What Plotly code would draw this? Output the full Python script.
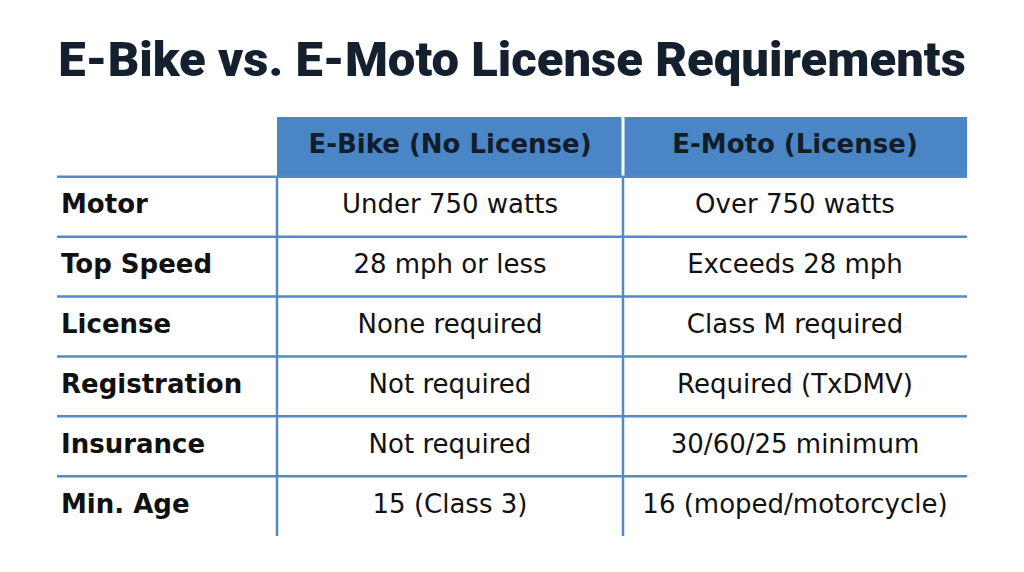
import plotly.graph_objects as go

# table content
headers = ["E-Bike (No License)", "E-Moto (License)"]
row_labels = ["Motor", "Top Speed", "License", "Registration", "Insurance", "Min. Age"]
ebike = ["Under 750 watts", "28 mph or less", "None required",
         "Not required", "Not required", "15 (Class 3)"]
emoto = ["Over 750 watts", "Exceeds 28 mph", "Class M required",
         "Required (TxDMV)", "30/60/25 minimum", "16 (moped/motorcycle)"]

title = "E-Bike vs. E-Moto License Requirements"

# layout / style (page body adds an 8px offset, margins compensate for it)
col_edges = [0, 220, 566, 910]
label_pad = 4
header_blue = "#4a86c5"
line_blue = "#5489c4"
ink = "#111111"
body_font = "DejaVu Sans, sans-serif"
body_size = 26

n_rows = len(row_labels) + 1  # header + body rows
row_mid = [i + 1.5 for i in range(len(row_labels))]

fig = go.Figure()

# row labels (bold, left aligned)
fig.add_trace(go.Scatter(
    x=[col_edges[0] + label_pad] * len(row_labels), y=row_mid,
    text=[f"<b>{t}</b>" for t in row_labels],
    mode="text", textposition="middle right",
    textfont=dict(family=body_font, size=body_size, color=ink),
    hoverinfo="skip", showlegend=False,
))

# value columns
for j, col in enumerate([ebike, emoto]):
    xc = (col_edges[j + 1] + col_edges[j + 2]) / 2
    fig.add_trace(go.Scatter(
        x=[xc] * len(col), y=row_mid, text=col,
        mode="text", textposition="middle center",
        textfont=dict(family=body_font, size=body_size, color=ink),
        hoverinfo="skip", showlegend=False,
    ))

shapes = []
# header cells
for j, h in enumerate(headers):
    shapes.append(dict(type="rect", xref="x", yref="y",
                       x0=col_edges[j + 1], x1=col_edges[j + 2], y0=0, y1=1,
                       fillcolor=header_blue, line=dict(width=0), layer="below"))
    fig.add_trace(go.Scatter(
        x=[(col_edges[j + 1] + col_edges[j + 2]) / 2], y=[0.5], text=[f"<b>{h}</b>"],
        mode="text", textposition="middle center",
        textfont=dict(family=body_font, size=body_size, color="#131c29"),
        hoverinfo="skip", showlegend=False,
    ))
# white gap between header cells
shapes.append(dict(type="line", xref="x", yref="y", x0=col_edges[2], x1=col_edges[2],
                   y0=0, y1=1, line=dict(color="white", width=3)))
# horizontal row lines
for i in range(1, n_rows):
    shapes.append(dict(type="line", xref="x", yref="y", x0=col_edges[0], x1=col_edges[-1],
                       y0=i, y1=i, line=dict(color=line_blue, width=2.5)))
# vertical column lines
for xe in col_edges[1:3]:
    shapes.append(dict(type="line", xref="x", yref="y", x0=xe, x1=xe,
                       y0=1, y1=n_rows, line=dict(color=line_blue, width=2.5)))

fig.update_layout(
    width=1024, height=572,
    margin=dict(l=49, r=65, t=109, b=44),
    paper_bgcolor="white", plot_bgcolor="white",
    shapes=shapes,
    title=dict(text=title, x=504 / 1024, xanchor="center",
               y=1 - 51 / 572, yanchor="middle", yref="container",
               font=dict(family="Roboto, sans-serif", weight=900,
                         size=49, color="#14202e")),
    xaxis=dict(range=[col_edges[0], col_edges[-1]], visible=False, fixedrange=True),
    yaxis=dict(range=[n_rows, 0], visible=False, fixedrange=True),
)

fig.write_html("out.html")
